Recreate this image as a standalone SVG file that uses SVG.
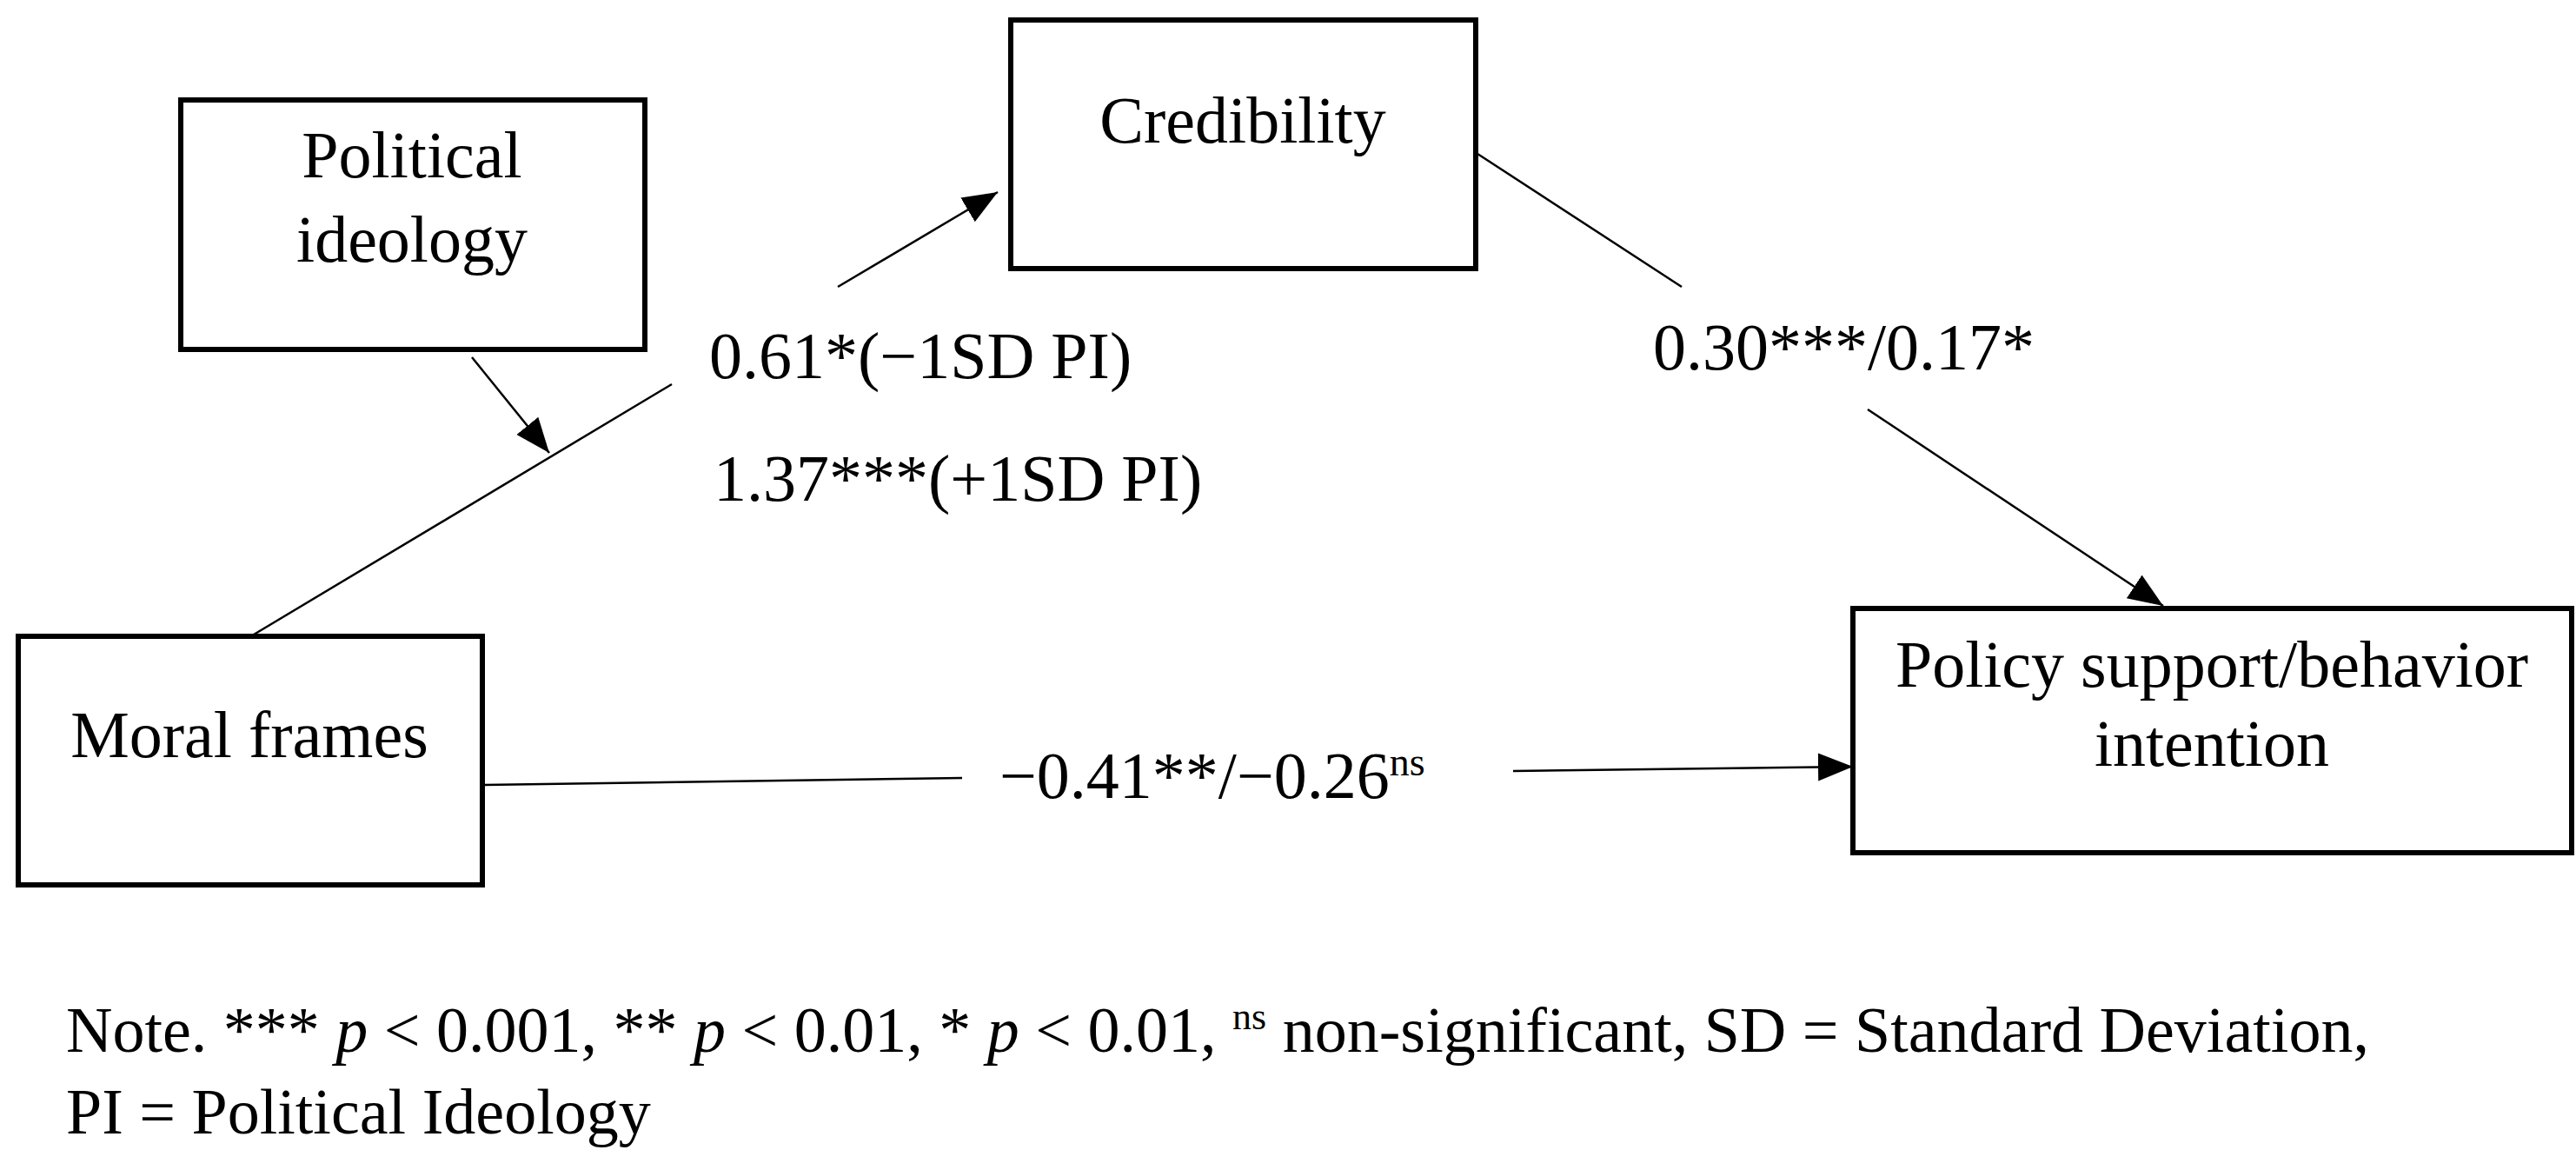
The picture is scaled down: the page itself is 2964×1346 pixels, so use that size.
<svg xmlns="http://www.w3.org/2000/svg" width="2964" height="1346" viewBox="0 0 2964 1346">
<style>
.box{fill:#fff;stroke:#000;stroke-width:6}
.ln{stroke:#000;stroke-width:2.5;fill:none}
text{font-family:"Liberation Serif","Times New Roman",serif;font-size:76px;fill:#000}
.c{text-anchor:middle}
.n{font-size:74px}
</style>
<defs>
<marker id="ahb" viewBox="0 0 10 10" refX="10" refY="5" markerWidth="40" markerHeight="40" markerUnits="userSpaceOnUse" orient="auto"><path d="M0,1 L10,5 L0,9 z" fill="#000"/></marker>
</defs>
<rect width="2964" height="1346" fill="#fff"/>
<g id="connectors">
<line class="ln" x1="292" y1="730" x2="773" y2="442"/>
<line class="ln" x1="964" y1="330" x2="1148" y2="221" marker-end="url(#ahb)"/>
<line class="ln" x1="543" y1="411" x2="632" y2="521" marker-end="url(#ahb)"/>
<line class="ln" x1="1694" y1="173" x2="1935" y2="330"/>
<line class="ln" x1="2149" y1="471" x2="2489" y2="697" marker-end="url(#ahb)"/>
<line class="ln" x1="557" y1="903" x2="1107" y2="895"/>
<line class="ln" x1="1741" y1="887" x2="2132" y2="882" marker-end="url(#ahb)"/>
<text x="816" y="435">0.61*(−1SD PI)</text>
<text x="821" y="576">1.37***(+1SD PI)</text>
<text x="1902" y="425">0.30***/0.17*</text>
<text x="1150" y="918">−0.41**/−0.26<tspan font-size="46" dy="-26">ns</tspan></text>
</g>
<g id="political"><rect class="box" x="208" y="115" width="534" height="287"/>
<text class="c" x="474" y="204">Political</text><text class="c" x="474" y="301">ideology</text></g>
<g id="credibility"><rect class="box" x="1163" y="23" width="535" height="286"/>
<text class="c" x="1430" y="164">Credibility</text></g>
<g id="moral"><rect class="box" x="21" y="732" width="534" height="286"/>
<text class="c" x="287" y="871">Moral frames</text></g>
<g id="policy"><rect class="box" x="2132" y="700" width="827" height="281"/>
<text class="c" x="2545" y="790">Policy support/behavior</text><text class="c" x="2545" y="881">intention</text></g>
<g id="note">
<text class="n" x="76" y="1210">Note. *** <tspan font-style="italic">p</tspan> &lt; 0.001, ** <tspan font-style="italic">p</tspan> &lt; 0.01, * <tspan font-style="italic">p</tspan> &lt; 0.01, <tspan font-size="44" dy="-26">ns</tspan><tspan dy="26"> non-significant, SD = Standard Deviation,</tspan></text>
<text class="n" x="76" y="1304">PI = Political Ideology</text>
</g>
</svg>
